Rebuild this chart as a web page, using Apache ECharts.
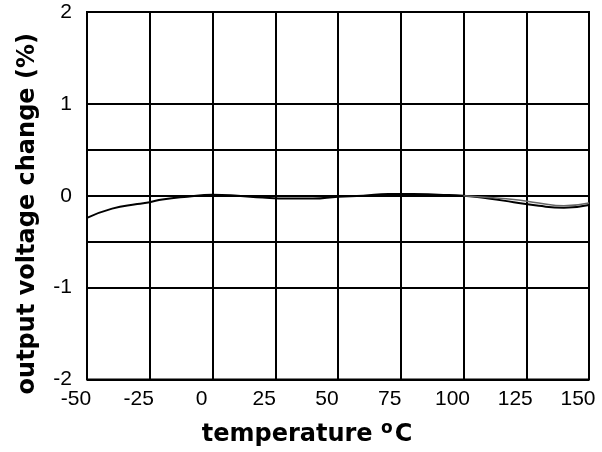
<!DOCTYPE html>
<html>
<head>
<meta charset="utf-8">
<script src="https://cdn.jsdelivr.net/npm/echarts@6/dist/echarts.min.js"></script>
<style>html,body{margin:0;padding:0;background:#fff}#c{width:602px;height:452px}</style>
</head>
<body>
<div id="c"></div>
<script>
var temps = [-50, -40, -30, -25, -20, -10, 0, 10, 20, 30, 40, 50, 60, 70, 80, 90, 100, 110, 120, 130, 140, 150];
var change = [-0.24, -0.14, -0.09, -0.07, -0.04, -0.01, 0.01, 0.0, -0.02, -0.03, -0.03, -0.01, 0.0, 0.02, 0.02, 0.01, 0.0, -0.03, -0.07, -0.11, -0.13, -0.1];
var temps2 = [100, 110, 120, 130, 140, 150];
var change2 = [0.0, -0.02, -0.04, -0.08, -0.11, -0.08];
var xTicks = [-50, -25, 0, 25, 50, 75, 100, 125, 150];
var yTicks = [-2, -1, 0, 1, 2];
var extraGrid = [0.5, -0.5];

var chart = echarts.init(document.getElementById('c'));
var tickFont = '"Liberation Sans Narrow", "Arial Narrow", "Liberation Sans", Arial, sans-serif';
var titleFont = '"DejaVu Sans", Verdana, sans-serif';
chart.setOption({
  animation: false,
  backgroundColor: '#fff',
  grid: {left: 87, right: 13, top: 12, bottom: 70, show: true, borderColor: '#000', borderWidth: 2},
  xAxis: {
    type: 'value', min: xTicks[0], max: xTicks[xTicks.length - 1], interval: 25,
    axisLine: {show: false}, axisTick: {show: false},
    splitLine: {lineStyle: {color: '#000', width: 2}},
    axisLabel: {color: '#000', fontSize: 21, fontFamily: tickFont, margin: 9, padding: [0, 22, 0, 0]},
    name: '{a|temperature }{b|o}{a|C}',
    nameLocation: 'middle', nameGap: 41,
    nameTextStyle: {
      padding: [0, 62, 0, 0],
      rich: {
        a: {fontSize: 24, fontWeight: 'bold', fontFamily: titleFont, color: '#000'},
        b: {fontSize: 17, fontWeight: 'bold', fontFamily: titleFont, color: '#000', verticalAlign: 'top', padding: [0, 2, 12, 0]}
      }
    }
  },
  yAxis: {
    type: 'value', min: yTicks[0], max: yTicks[yTicks.length - 1], interval: 1,
    axisLine: {show: false}, axisTick: {show: false},
    splitLine: {lineStyle: {color: '#000', width: 2}},
    axisLabel: {color: '#000', fontSize: 21, fontFamily: tickFont, margin: 15, padding: [0, 0, 6, 0]},
    name: 'output voltage change (%)',
    nameLocation: 'middle', nameGap: 47,
    nameTextStyle: {fontSize: 24, fontWeight: 'bold', fontFamily: titleFont, color: '#000', padding: [0, 36, 0, 0]}
  },
  series: [
    {
      type: 'line', data: temps.map(function (t, i) { return [t, change[i]]; }),
      smooth: true, showSymbol: false,
      lineStyle: {color: '#000', width: 2},
      markLine: {
        silent: true, symbol: 'none', label: {show: false},
        lineStyle: {color: '#000', width: 2, type: 'solid'},
        data: extraGrid.map(function (v) { return {yAxis: v}; })
      }
    },
    {
      type: 'line', data: temps2.map(function (t, i) { return [t, change2[i]]; }),
      smooth: true, showSymbol: false,
      lineStyle: {color: '#666', width: 1.5}
    }
  ]
});
</script>
</body>
</html>
